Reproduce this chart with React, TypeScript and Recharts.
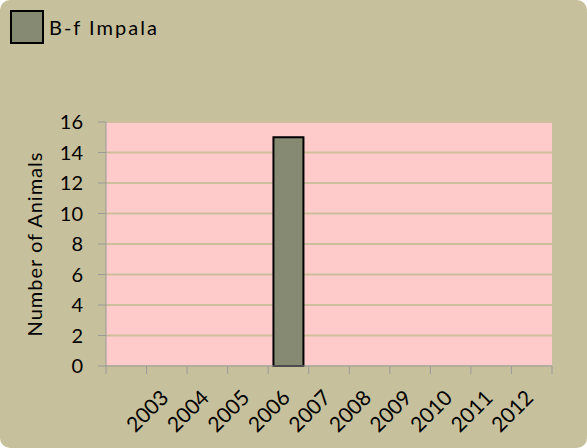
import { Bar, BarChart, CartesianGrid, Legend, XAxis, YAxis } from "recharts";

const YEARS = ["", "2003", "2004", "2005", "2006", "2007", "2008", "2009", "2010", "2011", "2012"];
const IMPALA = [0, 0, 0, 0, 15, 0, 0, 0, 0, 0, 0];
const Y_TICKS = [0, 2, 4, 6, 8, 10, 12, 14, 16];

const data = YEARS.map((year, i) => ({ year, impala: IMPALA[i] }));

const FONT = "Lato, 'Open Sans', sans-serif";
const BG = "#c7c09c";
const PLOT = "#ffcaca";
const BAR = "#868a72";
const AXIS = "#9a9a9a";

function LegendBox() {
  return (
    <div style={{ display: "flex", alignItems: "center", fontFamily: FONT, height: 34 }}>
      <span
        style={{
          width: 30,
          height: 30,
          background: BAR,
          border: "2px solid #000",
          display: "inline-block",
        }}
      />
      <span style={{ marginLeft: 5, fontSize: 20, letterSpacing: 2, color: "#000" }}>
        B-f Impala
      </span>
    </div>
  );
}

// Excel-style category axis: tick marks sit between the categories
function YearTick(props: any) {
  const { x = 0, y = 0, payload, index, visibleTicksCount } = props;
  const half = payload?.offset ?? 0;
  const axisY = y - 10;
  const tx = x + 3;
  const ty = axisY + 33;
  return (
    <g>
      <line x1={x - half} x2={x - half} y1={axisY} y2={axisY + 8} stroke={AXIS} />
      {index === visibleTicksCount - 1 ? (
        <line x1={x + half} x2={x + half} y1={axisY} y2={axisY + 8} stroke={AXIS} />
      ) : null}
      {payload?.value ? (
        <text
          x={tx}
          y={ty}
          transform={`rotate(-45 ${tx} ${ty})`}
          textAnchor="end"
          fontFamily={FONT}
          fontSize={21}
          fill="#000"
        >
          {payload.value}
        </text>
      ) : null}
    </g>
  );
}

export default function App() {
  return (
    <div
      style={{
        position: "absolute",
        left: 0,
        top: 0,
        width: 587,
        height: 448,
        background: BG,
        borderRadius: 10,
        overflow: "hidden",
      }}
    >
      <BarChart
        width={587}
        height={448}
        data={data}
        margin={{ top: 88, right: 35, bottom: 0, left: 0 }}
        barCategoryGap="13%"
      >
        <CartesianGrid vertical={false} stroke="#cdbf9c" strokeWidth={2} fill={PLOT} />
        <Legend
          verticalAlign="top"
          align="left"
          content={() => <LegendBox />}
          wrapperStyle={{ top: 10, left: 10, width: "auto" }}
        />
        <XAxis
          dataKey="year"
          height={82}
          interval={0}
          stroke={AXIS}
          tickLine={false}
          tickSize={8}
          tickMargin={2}
          tick={<YearTick />}
        />
        <YAxis
          width={106}
          domain={[0, 16]}
          ticks={Y_TICKS}
          interval={0}
          stroke={AXIS}
          tickSize={8}
          tickMargin={15}
          tick={{ fill: "#000", fontFamily: FONT, fontSize: 20 }}
          label={{
            value: "Number of Animals",
            angle: -90,
            position: "insideLeft",
            offset: 35,
            style: {
              textAnchor: "middle",
              fill: "#000",
              fontFamily: FONT,
              fontSize: 20,
              letterSpacing: 1,
            },
          }}
        />
        <Bar dataKey="impala" fill={BAR} stroke="#000" strokeWidth={2} isAnimationActive={false} />
      </BarChart>
    </div>
  );
}
